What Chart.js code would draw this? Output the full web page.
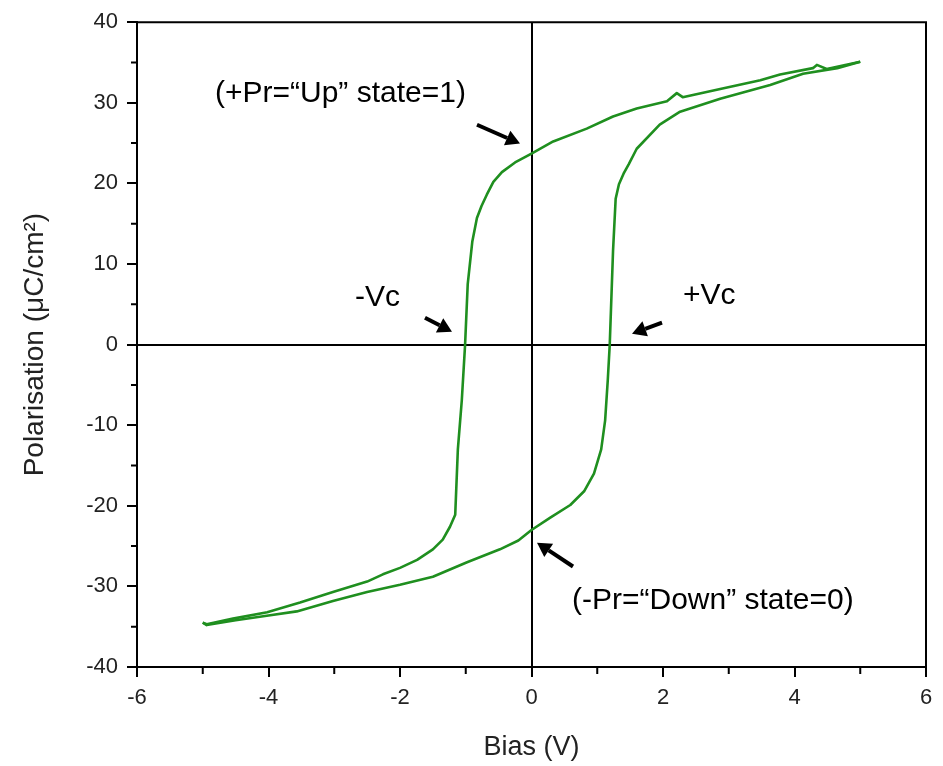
<!DOCTYPE html>
<html>
<head>
<meta charset="utf-8">
<script src="https://cdn.jsdelivr.net/npm/chart.js@4.4.1/dist/chart.umd.min.js"></script>
<style>
html,body{margin:0;padding:0;background:#fff;}
canvas{display:block;}
</style>
</head>
<body>
<canvas id="c" width="943" height="766"></canvas>
<script>
// Bias (V) and polarisation (µC/cm²)
const upperX = [5.0, 4.49, 4.34, 4.28, 3.78, 3.48, 2.87, 2.30, 2.21, 2.06, 1.60, 1.24, 0.84, 0.33, 0.0, -0.25, -0.45, -0.58, -0.68, -0.76, -0.83, -0.90, -0.97, -1.01, -1.06, -1.12, -1.16, -1.24, -1.35, -1.50, -1.74, -2.0, -2.26, -2.50, -3.02, -3.52, -4.02, -4.54, -4.94, -5.0];
const upperY = [35.1, 34.2, 34.7, 34.3, 33.5, 32.8, 31.7, 30.7, 31.2, 30.2, 29.3, 28.3, 26.8, 25.2, 23.7, 22.6, 21.4, 20.2, 18.6, 17.2, 15.7, 12.8, 7.5, 0, -6.9, -13, -21.1, -22.6, -24.2, -25.4, -26.7, -27.7, -28.5, -29.4, -30.7, -32.0, -33.2, -34.0, -34.7, -34.5];
const lowerX = [-5.0, -4.94, -4.5, -4.0, -3.57, -3.02, -2.50, -2.0, -1.5, -0.98, -0.48, -0.20, 0.0, 0.28, 0.59, 0.80, 0.95, 1.06, 1.12, 1.16, 1.19, 1.24, 1.28, 1.33, 1.40, 1.48, 1.60, 1.95, 2.26, 2.87, 3.63, 4.13, 4.65, 5.0];
const lowerY = [-34.5, -34.8, -34.2, -33.6, -33.1, -31.8, -30.7, -29.8, -28.8, -27.0, -25.4, -24.3, -23.0, -21.5, -19.9, -18.2, -16.0, -13.0, -9.4, -4.4, 0, 11.6, 18.1, 19.9, 21.2, 22.4, 24.3, 27.3, 28.9, 30.5, 32.2, 33.6, 34.3, 35.1];

const xTicks = [-6, -4, -2, 0, 2, 4, 6];
const yTicks = [-40, -30, -20, -10, 0, 10, 20, 30, 40];
const xMinor = [-5, -3, -1, 1, 3, 5];
const yMinor = [-35, -25, -15, -5, 5, 15, 25, 35];

// annotation texts (data coordinates of text left/baseline)
const labelTexts = ['(+Pr=\u201CUp\u201D state=1)', '-Vc', '+Vc', '(-Pr=\u201CDown\u201D state=0)'];
const labelX = [-4.814, -2.684, 2.304, 0.616];
const labelY = [30.12, 4.81, 5.06, -32.84];
// arrows: tail -> head, data coordinates
const arrowTailX = [-0.829, -1.62, 1.985, 0.631];
const arrowTailY = [27.28, 3.33, 2.72, -27.53];
const arrowHeadX = [-0.175, -1.209, 1.529, 0.084];
const arrowHeadY = [24.94, 1.60, 1.36, -24.57];

const FONT = "'Liberation Sans', Arial, Helvetica, sans-serif";
const GREEN = '#1f8f1f';

function pts(xs, ys) { return xs.map((x, i) => ({x: x, y: ys[i]})); }

const extras = {
  id: 'extras',
  afterDraw(chart) {
    const ctx = chart.ctx, a = chart.chartArea, sx = chart.scales.x, sy = chart.scales.y;
    ctx.save();
    ctx.strokeStyle = '#000';
    ctx.lineWidth = 2;
    // frame top and right
    ctx.beginPath();
    ctx.moveTo(a.left, a.top); ctx.lineTo(a.right, a.top); ctx.lineTo(a.right, a.bottom);
    ctx.stroke();
    // minor ticks
    ctx.beginPath();
    xMinor.forEach(v => { const p = sx.getPixelForValue(v); ctx.moveTo(p, a.bottom); ctx.lineTo(p, a.bottom + 7); });
    yMinor.forEach(v => { const p = sy.getPixelForValue(v); ctx.moveTo(a.left - 6, p); ctx.lineTo(a.left, p); });
    ctx.stroke();
    // labels
    ctx.fillStyle = '#000';
    ctx.font = '30px ' + FONT;
    ctx.textAlign = 'left';
    ctx.textBaseline = 'alphabetic';
    labelTexts.forEach((t, i) => ctx.fillText(t, sx.getPixelForValue(labelX[i]), sy.getPixelForValue(labelY[i])));
    // arrows
    for (let i = 0; i < arrowTailX.length; i++) {
      const x0 = sx.getPixelForValue(arrowTailX[i]), y0 = sy.getPixelForValue(arrowTailY[i]);
      const x1 = sx.getPixelForValue(arrowHeadX[i]), y1 = sy.getPixelForValue(arrowHeadY[i]);
      const ang = Math.atan2(y1 - y0, x1 - x0);
      const hl = 14, hw = 8;
      const bx = x1 - hl * Math.cos(ang), by = y1 - hl * Math.sin(ang);
      ctx.lineWidth = 4;
      ctx.beginPath(); ctx.moveTo(x0, y0); ctx.lineTo(bx, by); ctx.stroke();
      ctx.beginPath();
      ctx.moveTo(x1, y1);
      ctx.lineTo(bx + hw * Math.sin(ang), by - hw * Math.cos(ang));
      ctx.lineTo(bx - hw * Math.sin(ang), by + hw * Math.cos(ang));
      ctx.closePath(); ctx.fill();
    }
    ctx.restore();
  }
};

const gridCfg = {
  drawOnChartArea: true,
  color: c => (c.tick && c.tick.value === 0) ? '#000' : 'rgba(0,0,0,0)',
  lineWidth: 2,
  drawTicks: true,
  tickLength: 10,
  tickColor: '#000',
  tickWidth: 2
};

new Chart(document.getElementById('c'), {
  type: 'scatter',
  data: {
    datasets: [
      {data: pts(upperX, upperY), showLine: true, borderColor: GREEN, borderWidth: 2.6, pointRadius: 0, tension: 0, fill: false, borderJoinStyle: 'round'},
      {data: pts(lowerX, lowerY), showLine: true, borderColor: GREEN, borderWidth: 2.6, pointRadius: 0, tension: 0, fill: false, borderJoinStyle: 'round'}
    ]
  },
  options: {
    responsive: false,
    animation: false,
    layout: {padding: {top: 20, right: 17, left: 0, bottom: 0}},
    plugins: {legend: {display: false}, tooltip: {enabled: false}},
    scales: {
      x: {
        type: 'linear', min: -6, max: 6,
        afterBuildTicks: s => { s.ticks = xTicks.map(v => ({value: v})); },
        afterFit: s => { s.height = 99; },
        ticks: {color: '#222', font: {family: FONT, size: 22}, padding: 8, maxRotation: 0},
        grid: gridCfg,
        border: {display: true, color: '#000', width: 2},
        title: {display: true, text: 'Bias (V)', color: '#222', font: {family: FONT, size: 27}, padding: {top: 0, bottom: 2}}
      },
      y: {
        type: 'linear', min: -40, max: 40,
        afterBuildTicks: s => { s.ticks = yTicks.map(v => ({value: v})); },
        afterFit: s => { s.width = 137; },
        ticks: {color: '#222', font: {family: FONT, size: 22}, padding: 9},
        grid: gridCfg,
        border: {display: true, color: '#000', width: 2},
        title: {display: true, text: 'Polarisation (\u03BCC/cm\u00B2)', color: '#222', font: {family: FONT, size: 28}, padding: {top: 18, bottom: 0}}
      }
    }
  },
  plugins: [extras]
});
</script>
</body>
</html>
